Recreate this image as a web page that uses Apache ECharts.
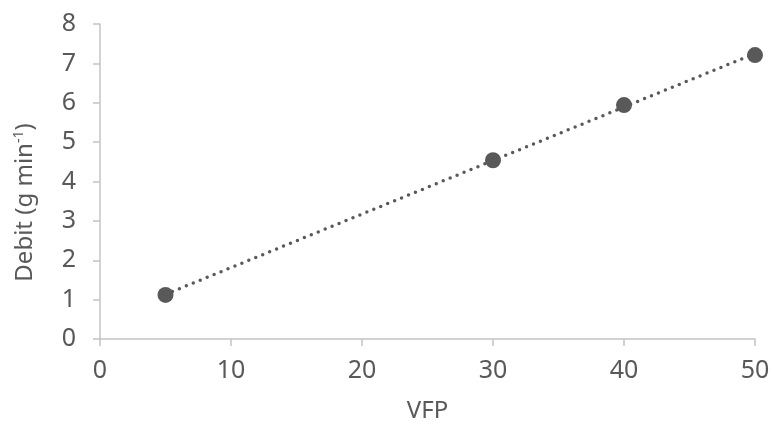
<!DOCTYPE html>
<html>
<head>
<meta charset="utf-8">
<script src="https://cdn.jsdelivr.net/npm/echarts@6/dist/echarts.min.js"></script>
<style>
  html, body { margin: 0; padding: 0; background: #ffffff; }
  #chart { width: 773px; height: 428px; }
</style>
</head>
<body>
<div id="chart"></div>
<script>
// Measured flow rate against VFP setting
const vfp = [5, 30, 40, 50];
const debit = [1.12, 4.54, 5.94, 7.21];

// Axis tick values
const xTicks = [0, 10, 20, 30, 40, 50];
const yTicks = [0, 1, 2, 3, 4, 5, 6, 7, 8];

// Least-squares linear trend through the measurements
function linearFit(xs, ys) {
  const n = xs.length;
  let sx = 0, sy = 0, sxx = 0, sxy = 0;
  for (let i = 0; i < n; i++) {
    sx += xs[i]; sy += ys[i];
    sxx += xs[i] * xs[i]; sxy += xs[i] * ys[i];
  }
  const slope = (n * sxy - sx * sy) / (n * sxx - sx * sx);
  const intercept = (sy - slope * sx) / n;
  return { slope, intercept };
}
const fit = linearFit(vfp, debit);
const xMin = Math.min(...vfp), xMax = Math.max(...vfp);
const trend = [
  [xMin, fit.intercept + fit.slope * xMin],
  [xMax, fit.intercept + fit.slope * xMax]
];

const textColor = '#595959';
const axisColor = '#c4c4c4';
const font = 'Noto Sans';

const chart = echarts.init(document.getElementById('chart'), null, { renderer: 'canvas' });
chart.setOption({
  animation: false,
  grid: { left: 100, right: 18, top: 24, bottom: 86, containLabel: false },
  xAxis: {
    type: 'value',
    min: xTicks[0], max: xTicks[xTicks.length - 1], interval: 10,
    name: 'VFP', nameLocation: 'middle', nameGap: 60,
    nameTextStyle: { color: textColor, fontSize: 24, fontFamily: font },
    axisLine: { show: true, lineStyle: { color: axisColor, width: 1.5 } },
    axisTick: { show: true, length: 7, lineStyle: { color: axisColor, width: 1.5 } },
    axisLabel: { color: textColor, fontSize: 25, fontFamily: font, margin: 19 },
    splitLine: { show: false }
  },
  yAxis: {
    type: 'value',
    min: yTicks[0], max: yTicks[yTicks.length - 1], interval: 1,
    name: 'Debit (g min{sup|-1})', nameLocation: 'middle', nameGap: 62, nameRotate: 90,
    nameTextStyle: {
      color: textColor, fontSize: 24, fontFamily: font,
      padding: [0, 42, 0, 0],
      rich: {
        sup: { color: textColor, fontSize: 14, fontFamily: font, verticalAlign: 'top', padding: [0, 0, 12, 0] }
      }
    },
    axisLine: { show: true, lineStyle: { color: axisColor, width: 1.5 } },
    axisTick: { show: true, length: 7, lineStyle: { color: axisColor, width: 1.5 } },
    axisLabel: { color: textColor, fontSize: 25, fontFamily: font, margin: 24 },
    splitLine: { show: false }
  },
  series: [
    {
      name: 'Tendance',
      type: 'line',
      data: trend,
      showSymbol: false,
      silent: true,
      lineStyle: { color: textColor, width: 3.5, type: [0, 7.5], cap: 'round' },
      z: 2
    },
    {
      name: 'Débit',
      type: 'scatter',
      data: vfp.map((x, i) => [x, debit[i]]),
      symbol: 'circle',
      symbolSize: 16,
      itemStyle: { color: textColor, opacity: 1 },
      z: 3
    }
  ]
});
</script>
</body>
</html>
